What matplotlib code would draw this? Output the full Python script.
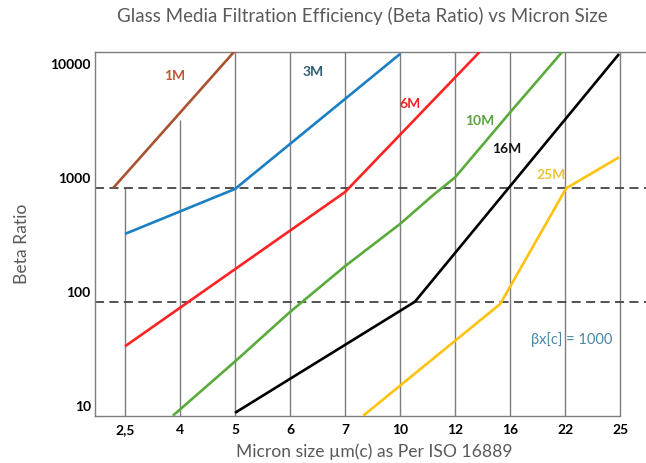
"""Glass media filtration efficiency (beta ratio) vs micron size."""

import matplotlib
matplotlib.use("Agg")
import matplotlib.pyplot as plt
import matplotlib.transforms as mtransforms
from matplotlib.ticker import NullLocator

plt.rcParams["font.family"] = ["Lato", "DejaVu Sans"]

# x axis is categorical: position 0 = "2,5", 1 = "4", ... 9 = "25";
# fractional positions fall between two sizes.
MICRON_LABELS = ["2,5", "4", "5", "6", "7", "10", "12", "16", "22", "25"]
Y_TICKS = [10, 100, 1000, 10000]
Y_MIN, Y_MAX = 10, 15600
THRESHOLDS = [100, 1000]

POS_1M = [-0.21, 2.01]
BETA_1M = [1000, 16100]

POS_3M = [0, 2, 5]
BETA_3M = [393, 975, 14900]

POS_6M = [0, 4, 6.45]
BETA_6M = [40.6, 916, 15600]

POS_10M = [0.87, 2, 3, 4, 5, 5.6, 6, 7, 7.95]
BETA_10M = [10, 29.9, 81.3, 205, 481, 860, 1233, 4580, 15600]

POS_16M = [2.0, 5.27, 8.98]
BETA_16M = [10.6, 100, 14900]

POS_25M = [4.33, 6.82, 8.02, 8.98]
BETA_25M = [10, 95.5, 990, 1850]

SERIES = [
    ("1M", POS_1M, BETA_1M, "#a9532f", "#c0553a", (0.91, 9750)),
    ("3M", POS_3M, BETA_3M, "#1b7fc4", "#2d5d72", (3.42, 10600)),
    ("6M", POS_6M, BETA_6M, "#ff2222", "#ee2424", (5.18, 5530)),
    ("10M", POS_10M, BETA_10M, "#5aab3c", "#5aa53c", (6.44, 3930)),
    ("16M", POS_16M, BETA_16M, "#000000", "#111111", (6.93, 2220)),
    ("25M", POS_25M, BETA_25M, "#ffc20e", "#f2c232", (7.74, 1320)),
]

# how far up each vertical grid line runs (None = to the top)
GRID_TOPS = [1000, 3930, None, None, None, None, None, None, None, None]

GRID_COLOR = "#7d7d7d"
TEXT_GRAY = "#5a5a5a"

fig = plt.figure(figsize=(6.46, 4.64), dpi=100)
ax = fig.add_axes([95 / 646, 47.3 / 464, 551 / 646, 364 / 464])

ax.set_yscale("log")
ax.set_ylim(Y_MIN, Y_MAX)
ax.set_xlim(-0.545, 9.47)

for i, top in enumerate(GRID_TOPS):
    ax.vlines(i, Y_MIN, top if top is not None else Y_MAX,
              color=GRID_COLOR, lw=1.0, zorder=1)

for v in THRESHOLDS:
    ax.axhline(v, color="#444444", lw=1.3, ls=(0, (5, 3)), zorder=2)

for name, pos, beta, color, label_color, (lx, ly) in SERIES:
    ax.plot(pos, beta, color=color, lw=1.9, zorder=3,
            solid_capstyle="butt", solid_joinstyle="round")
    ax.text(lx, ly, name, color=label_color, fontsize=10,
            fontweight="bold", ha="center", va="center", zorder=4)

ax.text(8.12, 47.1, "βx[c] = 1000", color="#4a86a8", fontsize=10.5,
        ha="center", va="center")

ax.set_xticks(range(len(MICRON_LABELS)))
ax.set_xticklabels(MICRON_LABELS)
ax.set_yticks(Y_TICKS)
ax.set_yticklabels([str(t) for t in Y_TICKS])
ax.yaxis.set_minor_locator(NullLocator())
ax.tick_params(axis="both", length=0, labelsize=10, labelcolor="black")
ax.tick_params(axis="x", pad=5)
ax.tick_params(axis="y", pad=3)
for lab in ax.get_xticklabels() + ax.get_yticklabels():
    lab.set_fontweight("bold")

# the y labels sit a little above their gridlines in the original
shift = mtransforms.ScaledTranslation(0, 0.11, fig.dpi_scale_trans)
for lab in ax.get_yticklabels():
    lab.set_transform(lab.get_transform() + shift)

ax.spines["right"].set_visible(False)
for side in ("left", "top", "bottom"):
    ax.spines[side].set_color(GRID_COLOR)
    ax.spines[side].set_linewidth(1.0)
ax.spines["bottom"].set_bounds(-0.545, 9)

fig.text(362 / 646, 1 - 16 / 464,
         "Glass Media Filtration Efficiency (Beta Ratio) vs Micron Size",
         ha="center", va="center", fontsize=13.5, color=TEXT_GRAY)
fig.text(374 / 646, 1 - 452 / 464, "Micron size µm(c) as Per ISO 16889",
         ha="center", va="center", fontsize=12.6, color=TEXT_GRAY)
fig.text(22 / 646, 1 - 244 / 464, "Beta Ratio", rotation=90,
         ha="center", va="center", fontsize=12.6, color=TEXT_GRAY)

fig.savefig("out.png", dpi=100)
